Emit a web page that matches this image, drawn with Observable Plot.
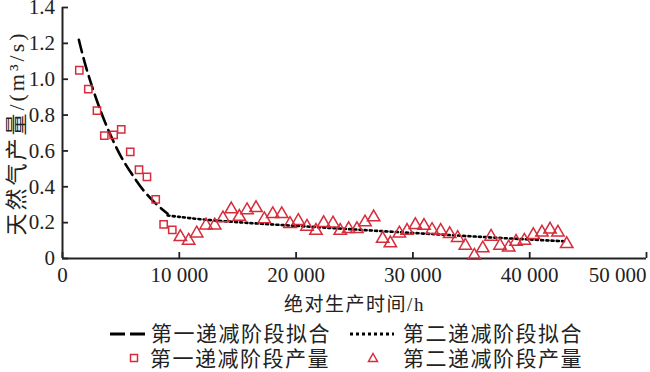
<!DOCTYPE html>
<html>
<head>
<meta charset="utf-8">
<script src="https://cdn.jsdelivr.net/npm/d3@7"></script>
<script src="https://cdn.jsdelivr.net/npm/@observablehq/plot@0.6"></script>
<style>
  html, body { margin: 0; padding: 0; background: #fff; }
  #wrap { width: 650px; height: 372px; position: relative; overflow: hidden; }
  #legend { position: absolute; left: 0; top: 316px; width: 650px; height: 56px; }
  #legend span { position: absolute; font-family: "Noto Sans CJK SC", sans-serif; font-size: 21px; letter-spacing: 1.5px; line-height: 24px; color: #222; white-space: nowrap; }
  #legend svg { position: absolute; }
</style>
</head>
<body>
<div id="wrap">
  <div id="chart"></div>
  <div id="legend"></div>
</div>
<script>
// ---- data ----
const stage1X = [1440, 2210, 2950, 3580, 4380, 5030, 5800, 6550, 7230, 7980, 8660, 9400];
const stage1Y = [1.05, 0.945, 0.825, 0.685, 0.69, 0.72, 0.595, 0.495, 0.455, 0.33, 0.19, 0.16];

const stage2X = [10090, 10800, 11490, 12290, 13030, 13740, 14450, 15140, 15800, 16570,
  17280, 18000, 18770, 19480, 20190, 20930, 21700, 22360, 23160, 23780,
  24500, 25210, 25900, 26640, 27410, 28070, 28840, 29500, 30210, 30950,
  31640, 32380, 33150, 33830, 34490, 35260, 35980, 36690, 37460, 38200,
  38830, 39540, 40310, 41050, 41740, 42420, 43170];
const stage2Y = [0.12, 0.10, 0.14, 0.185, 0.185, 0.225, 0.275, 0.233, 0.27, 0.282,
  0.22, 0.248, 0.248, 0.193, 0.21, 0.178, 0.155, 0.198, 0.196, 0.155,
  0.165, 0.165, 0.202, 0.23, 0.11, 0.085, 0.14, 0.155, 0.187, 0.183,
  0.16, 0.155, 0.137, 0.115, 0.072, 0.016, 0.057, 0.122, 0.072, 0.062,
  0.094, 0.1, 0.131, 0.145, 0.162, 0.145, 0.081];

const fit1X = [1400, 2000, 3000, 4000, 5000, 6000, 7000, 8000, 9000];
const fit1Y = [1.22, 1.07, 0.87, 0.705, 0.57, 0.465, 0.375, 0.305, 0.25];

const fit2X = [9000, 10000, 12000, 16000, 20000, 24000, 28000, 32000, 36000, 40000, 43000];
const fit2Y = [0.24, 0.232, 0.218, 0.198, 0.182, 0.166, 0.15, 0.135, 0.12, 0.106, 0.096];

const xTicks = [0, 10000, 20000, 30000, 40000];
const xTickLast = [50000];
const yTicks = [0, 0.2, 0.4, 0.6, 0.8, 1.0, 1.2, 1.4];

const xLabel = "绝对生产时间/h";
const yLabel = "天然气产量/(m³/s)";
const legendLabels = ["第一递减阶段拟合", "第二递减阶段拟合", "第一递减阶段产量", "第二递减阶段产量"];

// ---- build tables ----
const pts1 = stage1X.map((x, i) => ({x, y: stage1Y[i]}));
const pts2 = stage2X.map((x, i) => ({x, y: stage2Y[i]}));
const line1 = fit1X.map((x, i) => ({x, y: fit1Y[i]}));
const line2 = fit2X.map((x, i) => ({x, y: fit2Y[i]}));

const red = "#d62c3b";
const ink = "#222";
const fmtX = d => d === 0 ? "0" : d3.format(",")(d).replace(/,/g, " ");
const fmtY = d => d === 0 ? "0" : d.toFixed(1);

const chart = Plot.plot({
  width: 650,
  height: 316,
  marginLeft: 62,
  marginRight: 4,
  marginTop: 7,
  marginBottom: 58,
  style: {fontFamily: "'Liberation Serif', 'Noto Sans CJK SC', serif", fontSize: "21px", color: ink, background: "#fff"},
  x: {domain: [0, 50000]},
  y: {domain: [0, 1.4]},
  marks: [
    Plot.axisY(yTicks, {tickSize: -6, tickPadding: 13.5, tickFormat: fmtY, strokeWidth: 1.8, fontSize: 21,
      label: yLabel, labelAnchor: "center", labelOffset: 54, labelArrow: "none"}),
    Plot.axisX(xTicks, {tickSize: -6, tickPadding: 15, tickFormat: fmtX, strokeWidth: 1.8, fontSize: 21,
      label: xLabel, labelAnchor: "center", labelOffset: 52, labelArrow: "none"}),
    Plot.axisX(xTickLast, {tickSize: -6, tickPadding: 15, tickFormat: fmtX, strokeWidth: 1.8, fontSize: 21,
      textAnchor: "end", label: null}),
    Plot.ruleX([0], {stroke: ink, strokeWidth: 2}),
    Plot.ruleY([0], {stroke: ink, strokeWidth: 2}),
    Plot.line(line1, {x: "x", y: "y", stroke: "#000", strokeWidth: 2.6, strokeDasharray: "13,6", curve: "catmull-rom"}),
    Plot.line(line2, {x: "x", y: "y", stroke: "#000", strokeWidth: 2.6, strokeDasharray: "2,3.2", curve: "catmull-rom"}),
    Plot.dot(pts1, {x: "x", y: "y", symbol: "square", r: 4.1, stroke: red, strokeWidth: 1.5, fill: "none"}),
    Plot.dot(pts2, {x: "x", y: "y", symbol: "triangle", r: 4.6, stroke: red, strokeWidth: 1.5, fill: "none"})
  ]
});
document.getElementById("chart").appendChild(chart);

// letter spacing for axis titles
d3.select(chart).selectAll("text").each(function() {
  const t = this.textContent;
  if (t === yLabel) d3.select(this).attr("letter-spacing", 3).style("font-size", "22px");
  if (t === xLabel) d3.select(this).attr("letter-spacing", 1.5).style("font-size", "19px");
});

// ---- legend (HTML) ----
const lg = document.getElementById("legend");
const ns = "http://www.w3.org/2000/svg";
function sample(left, top, w, h, build) {
  const s = document.createElementNS(ns, "svg");
  s.setAttribute("width", w); s.setAttribute("height", h);
  s.style.left = left + "px"; s.style.top = top + "px";
  build(s); lg.appendChild(s);
}
function el(parent, name, attrs) {
  const e = document.createElementNS(ns, name);
  for (const k in attrs) e.setAttribute(k, attrs[k]);
  parent.appendChild(e);
}
function label(text, left, top) {
  const sp = document.createElement("span");
  sp.textContent = text; sp.style.left = left + "px"; sp.style.top = top + "px";
  lg.appendChild(sp);
}
sample(108, 13, 42, 10, s => el(s, "line", {x1: 2, x2: 37, y1: 5, y2: 5, stroke: "#000", "stroke-width": 3, "stroke-dasharray": "15,5"}));
label(legendLabels[0], 151, 4);
sample(348, 13, 48, 10, s => el(s, "line", {x1: 2, x2: 46, y1: 5, y2: 5, stroke: "#000", "stroke-width": 3, "stroke-dasharray": "3,3"}));
label(legendLabels[1], 403, 4);
sample(128, 36, 12, 12, s => el(s, "rect", {x: 2.5, y: 2.5, width: 7, height: 7, fill: "none", stroke: red, "stroke-width": 1.5}));
label(legendLabels[2], 150, 29);
sample(367, 36, 12, 12, s => el(s, "path", {d: "M6,1.5L10.5,9.5L1.5,9.5Z", fill: "none", stroke: red, "stroke-width": 1.5}));
label(legendLabels[3], 403, 29);
</script>
</body>
</html>
